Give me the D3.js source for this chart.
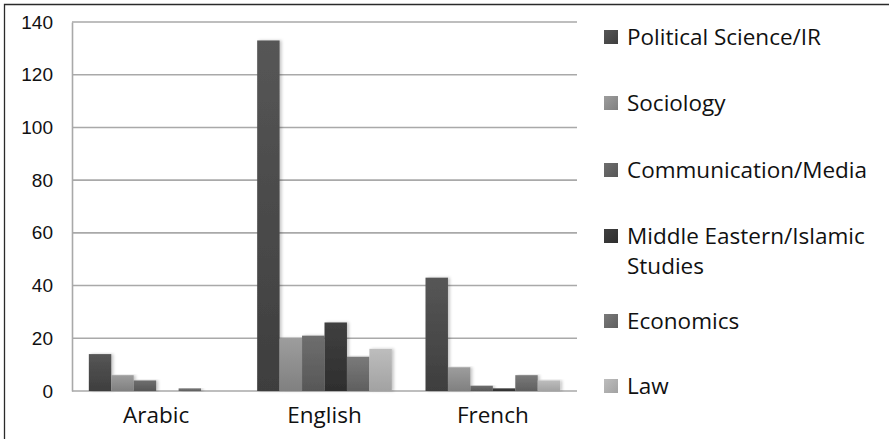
<!DOCTYPE html>
<html>
<head>
<meta charset="utf-8">
<script src="https://cdn.jsdelivr.net/npm/d3@7/dist/d3.min.js"></script>
<style>
  html, body { margin: 0; padding: 0; background: #fff; }
  svg { display: block; }
</style>
</head>
<body>
<svg id="chart" width="889" height="439"></svg>
<script>
// Publications by language and discipline
const languages = ["Arabic", "English", "French"];
const disciplines = [
  "Political Science/IR",
  "Sociology",
  "Communication/Media",
  "Middle Eastern/Islamic Studies",
  "Economics",
  "Law"
];
// one array per discipline, ordered as `languages`
const politicalScience = [14, 133, 43];
const sociology        = [6, 20, 9];
const communication    = [4, 21, 2];
const middleEastern    = [0, 26, 1];
const economics        = [1, 13, 6];
const law              = [0, 16, 4];
const seriesValues = [politicalScience, sociology, communication, middleEastern, economics, law];
const yTicks = [0, 20, 40, 60, 80, 100, 120, 140];

// gradient stops (top, bottom) per discipline
const shades = [
  ["#565656", "#3e3e3e"],
  ["#9d9d9d", "#808080"],
  ["#6e6e6e", "#575757"],
  ["#404040", "#2e2e2e"],
  ["#7a7a7a", "#5f5f5f"],
  ["#bdbdbd", "#a2a2a2"]
];

const svg = d3.select("#chart");
const margin = { left: 72, right: 312, top: 22, bottom: 48 };
const W = 889, H = 439;
const plotW = W - margin.left - margin.right;
const plotH = H - margin.top - margin.bottom;

const defs = svg.append("defs");
shades.forEach((s, i) => {
  const g = defs.append("linearGradient")
    .attr("id", "grad" + i).attr("x1", 0).attr("y1", 0).attr("x2", 0).attr("y2", 1);
  g.append("stop").attr("offset", "0%").attr("stop-color", s[0]);
  g.append("stop").attr("offset", "100%").attr("stop-color", s[1]);
  const lg = defs.append("linearGradient")
    .attr("id", "lgrad" + i).attr("x1", 0).attr("y1", 0).attr("x2", 1).attr("y2", 1);
  lg.append("stop").attr("offset", "0%").attr("stop-color", s[0]);
  lg.append("stop").attr("offset", "100%").attr("stop-color", s[1]);
});
const shadow = defs.append("filter").attr("id", "shadow")
  .attr("x", "-20%").attr("y", "-5%").attr("width", "150%").attr("height", "110%");
shadow.append("feDropShadow").attr("dx", 2).attr("dy", 0)
  .attr("stdDeviation", 1.5).attr("flood-color", "#000").attr("flood-opacity", 0.22);

// outer frame (top and left edges visible)
svg.append("path")
  .attr("d", `M4.5,${H + 2} L4.5,4.5 L${W + 2},4.5`)
  .attr("fill", "none").attr("stroke", "#2a2a2a").attr("stroke-width", 1.3);

const g = svg.append("g").attr("transform", `translate(${margin.left},${margin.top})`);

const x0 = d3.scaleBand().domain(languages).range([0, plotW]).padding(0);
const x1 = d3.scaleBand().domain(d3.range(disciplines.length))
  .range([x0.bandwidth() * 0.1, x0.bandwidth() * 0.9]).padding(0);
const y = d3.scaleLinear().domain([0, 140]).range([plotH, 0]);

// horizontal gridlines
g.append("g")
  .selectAll("line")
  .data(yTicks)
  .join("line")
  .attr("x1", 0).attr("x2", plotW)
  .attr("y1", d => y(d)).attr("y2", d => y(d))
  .attr("stroke", "#a9a9a9").attr("stroke-width", 1.6);

// y axis
const yAxis = g.append("g")
  .call(d3.axisLeft(y).tickValues(yTicks).tickSize(0).tickPadding(19));
yAxis.select(".domain").attr("stroke", "#a9a9a9").attr("stroke-width", 1.6);
yAxis.selectAll("text")
  .attr("font-family", "'Liberation Sans', Arial, sans-serif")
  .attr("font-size", 19).attr("fill", "#111");

// bars
const groups = g.append("g")
  .selectAll("g")
  .data(languages)
  .join("g")
  .attr("transform", d => `translate(${x0(d)},0)`);

groups.selectAll("rect")
  .data((lang, li) => seriesValues.map((vals, si) => ({ si, v: vals[li] })))
  .join("rect")
  .attr("x", d => x1(d.si))
  .attr("width", x1.bandwidth())
  .attr("y", d => y(d.v))
  .attr("height", d => Math.max(0, y(0) - y(d.v)))
  .attr("fill", d => `url(#grad${d.si})`)
  .attr("filter", "url(#shadow)");

// x axis labels
const xAxis = g.append("g")
  .attr("transform", `translate(0,${plotH})`)
  .call(d3.axisBottom(x0).tickSize(0).tickPadding(16));
xAxis.select(".domain").remove();
xAxis.selectAll("text")
  .attr("font-family", "'Open Sans', sans-serif")
  .attr("font-size", 22.5).attr("fill", "#111");

// legend
const legendX = 604;
const legendY = [37, 103, 170, 236, 321, 386];
const legend = svg.append("g");
disciplines.forEach((name, i) => {
  const item = legend.append("g").attr("transform", `translate(${legendX},${legendY[i]})`);
  item.append("rect")
    .attr("x", 0).attr("y", -7).attr("width", 14).attr("height", 14)
    .attr("fill", `url(#lgrad${i})`);
  const t = item.append("text")
    .attr("x", 23).attr("y", 0).attr("dy", "0.36em")
    .attr("font-family", "'Open Sans', sans-serif")
    .attr("font-size", 22.5).attr("fill", "#111");
  if (name === "Middle Eastern/Islamic Studies") {
    t.append("tspan").attr("x", 23).text("Middle Eastern/Islamic");
    t.append("tspan").attr("x", 23).attr("dy", 30).text("Studies");
  } else {
    t.text(name);
  }
});
</script>
</body>
</html>
